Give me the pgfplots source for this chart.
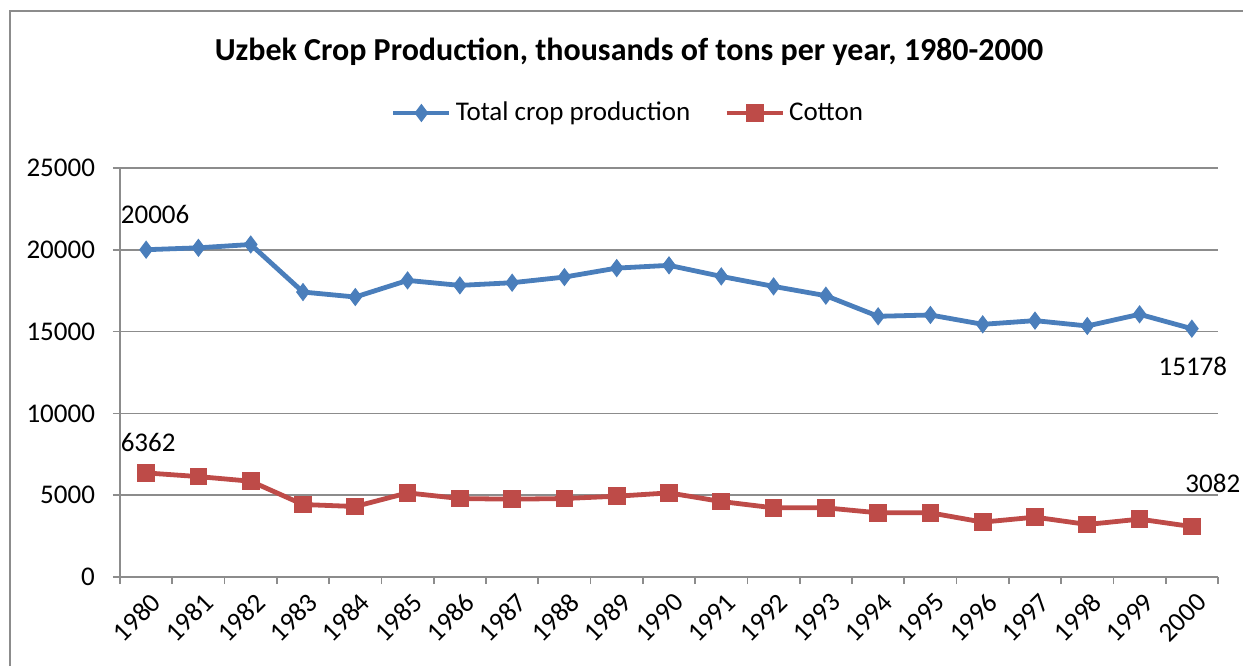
\documentclass[border=0pt]{standalone}
\usepackage{pgfplots}
\pgfplotsset{compat=1.18}
\usepackage{fontspec}
\setmainfont{Carlito}
\definecolor{tblue}{HTML}{4A7EBB}
\definecolor{cred}{HTML}{BE4B48}
\definecolor{gridgray}{HTML}{8C8C8C}
\begin{document}
\begin{tikzpicture}[x=1pt,y=1pt]
\useasboundingbox (-60,-44.5) rectangle (561.5,288.5);
\draw[gridgray, line width=0.9pt] (-55,-44.5) -- (-55,283) -- (561.5,283);
\begin{axis}[
  at={(0,0)}, anchor=south west,
  scale only axis, width=549pt, height=204.5pt,
  xmin=-0.5, xmax=20.5, ymin=0, ymax=25000,
  axis x line*=bottom, axis y line*=left,
  axis line style={gridgray, line width=0.8pt},
  ytick={0,5000,10000,15000,20000,25000},
  scaled y ticks=false,
  ymajorgrids, grid style={gridgray, line width=0.8pt},
  xtick={-0.5,0.5,...,20.5},
  x tick label as interval,
  xticklabels={1980,1981,1982,1983,1984,1985,1986,1987,1988,1989,1990,1991,1992,1993,1994,1995,1996,1997,1998,1999,2000},
  tick align=outside, major tick length=3.5pt,
  tick style={gridgray, line width=0.8pt},
  /pgf/number format/1000 sep={},
  /pgf/number format/assume math mode=true,
  ticklabel style={font=\fontsize{13.5}{16}\selectfont},
  yticklabel shift=5.5pt,
  xticklabel style={rotate=45, anchor=east, yshift=-8.5pt, xshift=2pt},
  clip=false,
  legend style={at={(0.4636,1.1345)}, anchor=center, draw=none, fill=none,
    font=\fontsize{13.5}{16}\selectfont, legend columns=2,
    /tikz/every even column/.append style={column sep=15pt}},
  legend image code/.code={\draw[mark repeat=2,mark phase=2,#1] plot coordinates {(0pt,0pt) (14pt,0pt) (28pt,0pt)};},
]
\addplot[tblue, line width=2.4pt, mark=diamond*, mark size=4.2pt, mark options={solid, fill=tblue, line width=0.5pt}] coordinates {
(0,20006) (1,20122) (2,20325) (3,17419) (4,17114) (5,18130) (6,17825) (7,17988) (8,18333) (9,18882) (10,19050)
(11,18374) (12,17764) (13,17195) (14,15935) (15,16016) (16,15445) (17,15671) (18,15345) (19,16057) (20,15178)};
\addlegendentry{Total crop production}
\addplot[cred, line width=2.4pt, mark=square*, mark size=4.2pt, mark options={solid, fill=cred, line width=0.5pt}] coordinates {
(0,6362) (1,6138) (2,5854) (3,4431) (4,4309) (5,5142) (6,4797) (7,4756) (8,4797) (9,4939) (10,5142)
(11,4614) (12,4228) (13,4228) (14,3923) (15,3923) (16,3354) (17,3659) (18,3211) (19,3537) (20,3082)};
\addlegendentry{Cotton}
\node[font=\fontsize{13.5}{16}\selectfont, xshift=4.5pt, yshift=17.5pt] at (axis cs:0,20006) {20006};
\node[font=\fontsize{13.5}{16}\selectfont, xshift=1pt, yshift=15pt] at (axis cs:0,6362) {6362};
\node[font=\fontsize{13.5}{16}\selectfont, xshift=0.5pt, yshift=-19pt] at (axis cs:20,15178) {15178};
\node[font=\fontsize{13.5}{16}\selectfont, xshift=10.5pt, yshift=21.5pt] at (axis cs:20,3082) {3082};
\end{axis}
\node[font=\fontsize{16}{19}\selectfont\bfseries] at (254.5,262.5) {Uzbek Crop Production, thousands of tons per year, 1980-2000};
\end{tikzpicture}
\end{document}
